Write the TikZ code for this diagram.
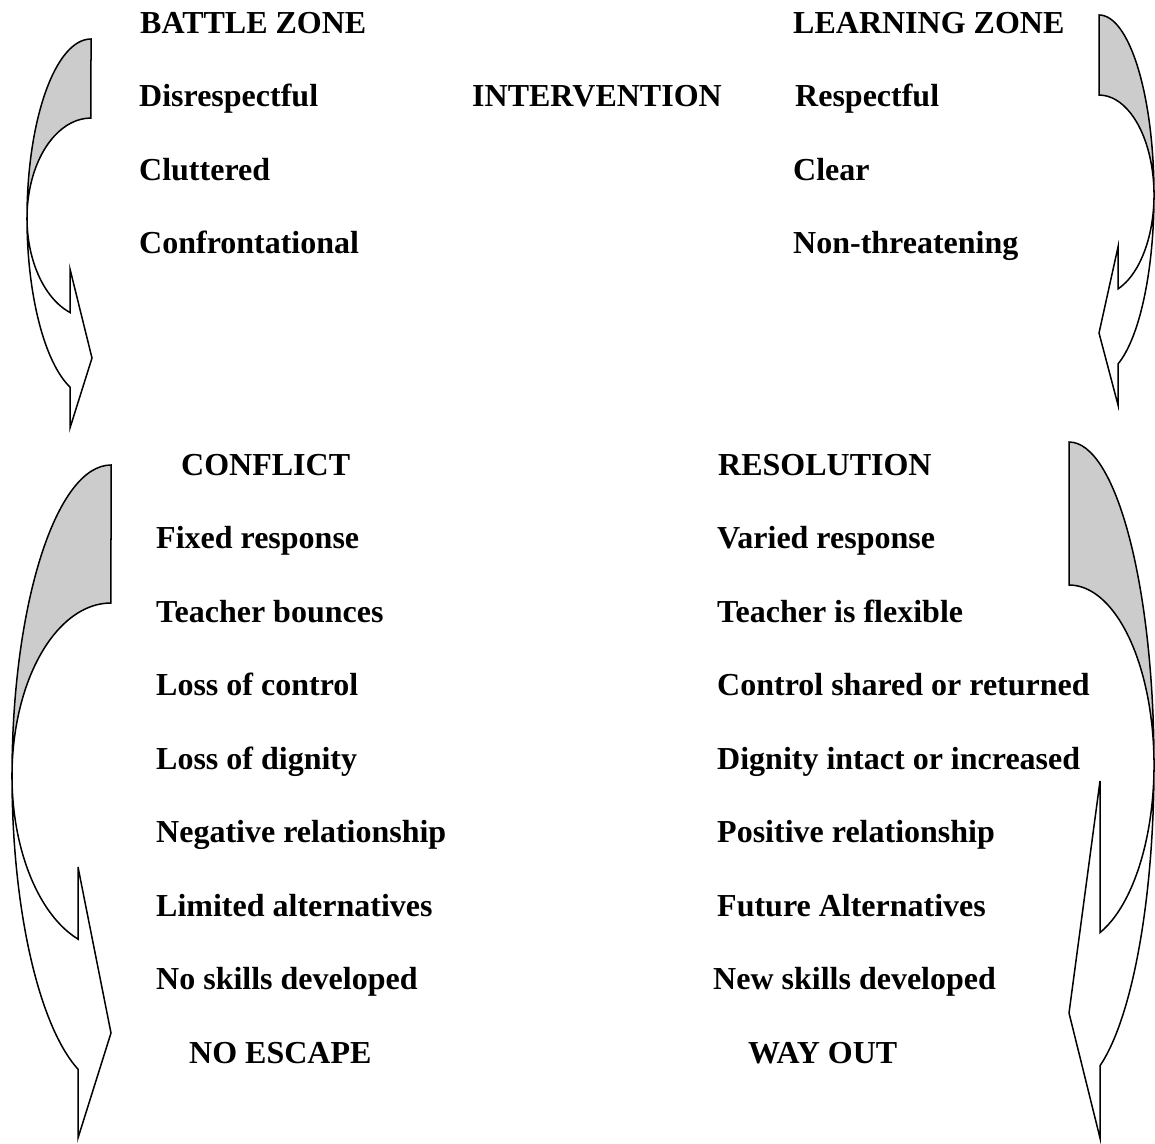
\documentclass[tikz,border=0pt]{standalone}
\usepackage{fontspec}
\setmainfont{Liberation Serif}
\usepackage{tikz}
\usetikzlibrary{positioning}
\newcommand{\zonefont}{\fontsize{32}{38}\selectfont\bfseries}
\tikzset{
  zonelab/.style   = {anchor=base west, inner sep=0pt, font=\zonefont},
  backface/.style  = {fill=black!20, draw=none},
  bentarrow/.style = {draw=black, line width=1.5pt, line join=miter},
}

\begin{document}
\begin{tikzpicture}[x=1pt, y=-1pt]
\useasboundingbox (0,0) rectangle (1155,1143);

\fill[backface] (91,39) arc[start angle=270, end angle=180, x radius=64, y radius=179]
  arc[start angle=180, end angle=270, x radius=64, y radius=100] -- cycle;
\draw[bentarrow] (91,39) arc[start angle=270, end angle=109.15, x radius=64, y radius=179]
  -- (70,428) -- (92,358) -- (70,269) -- (70,312.5)
  arc[start angle=109.15, end angle=270, x radius=64, y radius=100] -- cycle;

\fill[backface] (1099,15) arc[start angle=-90, end angle=0, x radius=55, y radius=180]
  arc[start angle=0, end angle=-90, x radius=55, y radius=100] -- cycle;
\draw[bentarrow] (1099,15) arc[start angle=-90, end angle=69.8, x radius=55, y radius=180]
  -- (1118,405) -- (1099,333) -- (1118,247) -- (1118,288.9)
  arc[start angle=69.8, end angle=-90, x radius=55, y radius=100] -- cycle;

\fill[backface] (111,465) arc[start angle=270, end angle=180, x radius=99, y radius=311]
  arc[start angle=180, end angle=270, x radius=99, y radius=173] -- cycle;
\draw[bentarrow] (111,465) arc[start angle=270, end angle=109.47, x radius=99, y radius=311]
  -- (78,1138) -- (111,1033) -- (78,867) -- (78,939.1)
  arc[start angle=109.47, end angle=270, x radius=99, y radius=173] -- cycle;

\fill[backface] (1069,442) arc[start angle=-90, end angle=0, x radius=85, y radius=323]
  arc[start angle=0, end angle=-90, x radius=85, y radius=180] -- cycle;
\draw[bentarrow] (1069,442) arc[start angle=-90, end angle=68.61, x radius=85, y radius=323]
  -- (1100,1138) -- (1069,1013) -- (1100,781) -- (1100,932.6)
  arc[start angle=68.61, end angle=-90, x radius=85, y radius=180] -- cycle;

\node[zonelab] (battle)    at (140,33)  {BATTLE ZONE};
\node[zonelab] (learning)  at (793,33)  {LEARNING ZONE};
\node[zonelab] (disresp)   at (139,106) {Disrespectful};
\node[zonelab] (interv)    at (472,106) {INTERVENTION};
\node[zonelab] (resp)      at (795,106) {Respectful};
\node[zonelab] (clutter)   at (139,180) {Cluttered};
\node[zonelab] (clear)     at (793,180) {Clear};
\node[zonelab] (confront)  at (139,253) {Confrontational};
\node[zonelab] (nonthreat) at (793,253) {Non-threatening};

\node[zonelab] (conflict)    at (181,475)    {CONFLICT};
\node[zonelab] (resolution)  at (718,475)    {RESOLUTION};
\node[zonelab] (fixed)       at (156,548.5)  {Fixed response};
\node[zonelab] (varied)      at (717,548.5)  {Varied response};
\node[zonelab] (bounces)     at (156,622)    {Teacher bounces};
\node[zonelab] (flexible)    at (717,622)    {Teacher is flexible};
\node[zonelab] (losscontrol) at (156,695.5)  {Loss of control};
\node[zonelab] (shared)      at (717,695.5)  {Control shared or returned};
\node[zonelab] (lossdignity) at (156,769)    {Loss of dignity};
\node[zonelab] (intact)      at (717,769)    {Dignity intact or increased};
\node[zonelab] (negrel)      at (156,842.5)  {Negative relationship};
\node[zonelab] (posrel)      at (717,842.5)  {Positive relationship};
\node[zonelab] (limited)     at (156,916)    {Limited alternatives};
\node[zonelab] (future)      at (717,916)    {Future Alternatives};
\node[zonelab] (noskills)    at (156,989.5)  {No skills developed};
\node[zonelab] (newskills)   at (713,989.5)  {New skills developed};
\node[zonelab] (noescape)    at (189,1063)   {NO ESCAPE};
\node[zonelab] (wayout)      at (748,1063)   {WAY OUT};
\end{tikzpicture}
\end{document}
